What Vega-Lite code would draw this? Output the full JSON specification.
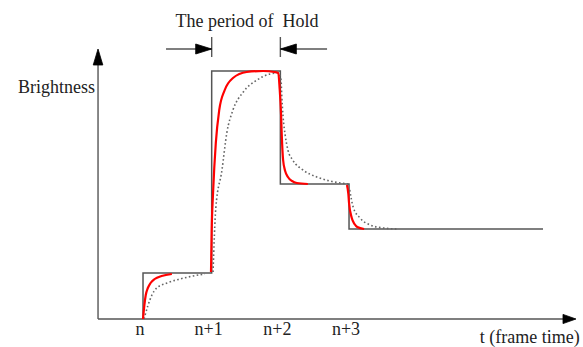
{
  "$schema": "https://vega.github.io/schema/vega-lite/v6.json",
  "width": 583,
  "height": 347,
  "autosize": {"type": "fit", "contains": "padding"},
  "padding": 0,
  "background": "white",
  "config": {"view": {"stroke": null}},
  "datasets": {
    "step": [
      {"i": 0, "t": 0, "b": 0}, {"i": 1, "t": 0, "b": 46}, {"i": 2, "t": 1, "b": 46},
      {"i": 3, "t": 1, "b": 248}, {"i": 4, "t": 2, "b": 248}, {"i": 5, "t": 2, "b": 135},
      {"i": 6, "t": 3, "b": 135}, {"i": 7, "t": 3, "b": 90}, {"i": 8, "t": 5.825, "b": 90}
    ],
    "fast": [
      {"seg": "a", "i": 0, "t": 0, "b": 0}, {"seg": "a", "i": 1, "t": 0.02, "b": 14},
      {"seg": "a", "i": 2, "t": 0.04, "b": 24}, {"seg": "a", "i": 3, "t": 0.07, "b": 31},
      {"seg": "a", "i": 4, "t": 0.11, "b": 36}, {"seg": "a", "i": 5, "t": 0.17, "b": 40},
      {"seg": "a", "i": 6, "t": 0.27, "b": 43}, {"seg": "a", "i": 7, "t": 0.42, "b": 45},
      {"seg": "b", "i": 0, "t": 0.99, "b": 47}, {"seg": "b", "i": 1, "t": 1.0, "b": 89},
      {"seg": "b", "i": 2, "t": 1.02, "b": 126}, {"seg": "b", "i": 3, "t": 1.06, "b": 176},
      {"seg": "b", "i": 4, "t": 1.11, "b": 209}, {"seg": "b", "i": 5, "t": 1.19, "b": 229},
      {"seg": "b", "i": 6, "t": 1.31, "b": 241}, {"seg": "b", "i": 7, "t": 1.51, "b": 247},
      {"seg": "b", "i": 8, "t": 1.75, "b": 248}, {"seg": "b", "i": 9, "t": 1.91, "b": 247},
      {"seg": "b", "i": 10, "t": 1.97, "b": 246}, {"seg": "b", "i": 11, "t": 1.99, "b": 230},
      {"seg": "b", "i": 12, "t": 2.01, "b": 205}, {"seg": "b", "i": 13, "t": 2.02, "b": 185},
      {"seg": "b", "i": 14, "t": 2.04, "b": 159}, {"seg": "b", "i": 15, "t": 2.07, "b": 148},
      {"seg": "b", "i": 16, "t": 2.11, "b": 142}, {"seg": "b", "i": 17, "t": 2.17, "b": 138},
      {"seg": "b", "i": 18, "t": 2.24, "b": 136}, {"seg": "b", "i": 19, "t": 2.4, "b": 135},
      {"seg": "c", "i": 0, "t": 2.97, "b": 134}, {"seg": "c", "i": 1, "t": 2.99, "b": 125},
      {"seg": "c", "i": 2, "t": 3.0, "b": 116}, {"seg": "c", "i": 3, "t": 3.04, "b": 101},
      {"seg": "c", "i": 4, "t": 3.08, "b": 95}, {"seg": "c", "i": 5, "t": 3.12, "b": 92},
      {"seg": "c", "i": 6, "t": 3.22, "b": 90}
    ],
    "slow": [
      {"seg": "a", "i": 0, "t": 0.015, "b": 0}, {"seg": "a", "i": 1, "t": 0.07, "b": 13},
      {"seg": "a", "i": 2, "t": 0.13, "b": 24}, {"seg": "a", "i": 3, "t": 0.2, "b": 31},
      {"seg": "a", "i": 4, "t": 0.35, "b": 36}, {"seg": "a", "i": 5, "t": 0.54, "b": 40},
      {"seg": "a", "i": 6, "t": 0.73, "b": 43}, {"seg": "a", "i": 7, "t": 0.9, "b": 45},
      {"seg": "b", "i": 0, "t": 1.02, "b": 47}, {"seg": "b", "i": 1, "t": 1.06, "b": 111},
      {"seg": "b", "i": 2, "t": 1.15, "b": 149}, {"seg": "b", "i": 3, "t": 1.22, "b": 186},
      {"seg": "b", "i": 4, "t": 1.31, "b": 209}, {"seg": "b", "i": 5, "t": 1.46, "b": 227},
      {"seg": "b", "i": 6, "t": 1.66, "b": 239}, {"seg": "b", "i": 7, "t": 1.85, "b": 245},
      {"seg": "b", "i": 8, "t": 1.97, "b": 246}, {"seg": "b", "i": 9, "t": 2.01, "b": 239},
      {"seg": "b", "i": 10, "t": 2.02, "b": 224}, {"seg": "b", "i": 11, "t": 2.04, "b": 202},
      {"seg": "b", "i": 12, "t": 2.07, "b": 184}, {"seg": "b", "i": 13, "t": 2.11, "b": 169},
      {"seg": "b", "i": 14, "t": 2.18, "b": 159}, {"seg": "b", "i": 15, "t": 2.33, "b": 149},
      {"seg": "b", "i": 16, "t": 2.53, "b": 142}, {"seg": "b", "i": 17, "t": 2.72, "b": 138},
      {"seg": "b", "i": 18, "t": 2.99, "b": 135},
      {"seg": "c", "i": 0, "t": 3.01, "b": 129}, {"seg": "c", "i": 1, "t": 3.06, "b": 112},
      {"seg": "c", "i": 2, "t": 3.16, "b": 101}, {"seg": "c", "i": 3, "t": 3.31, "b": 94},
      {"seg": "c", "i": 4, "t": 3.5, "b": 91}, {"seg": "c", "i": 5, "t": 3.7, "b": 90}
    ],
    "guides": [
      {"t": -0.655, "b": 0, "t2": -0.655, "b2": 258},
      {"t": -0.655, "b": 0, "t2": 6.15, "b2": 0},
      {"t": 0.335, "b": 270, "t2": 1, "b2": 270},
      {"t": 2, "b": 270, "t2": 2.68, "b2": 270},
      {"t": 1, "b": 262, "t2": 1, "b2": 282},
      {"t": 2, "b": 262, "t2": 2, "b2": 282}
    ],
    "heads": [
      {"dir": "up", "t": -0.655, "b": 270},
      {"dir": "right", "t": 1, "b": 270},
      {"dir": "left", "t": 2, "b": 270},
      {"dir": "axis", "t": 6.305, "b": 0}
    ],
    "ticks": [
      {"label": "n", "t": 0, "b": -16}, {"label": "n+1", "t": 1, "b": -16},
      {"label": "n+2", "t": 2, "b": -16}, {"label": "n+3", "t": 3, "b": -16}
    ],
    "notes": [
      {"text": "Brightness", "t": -0.7, "b": 226, "align": "right"},
      {"text": "The period of\u00a0 Hold", "t": 1.515, "b": 292, "align": "center"},
      {"text": "t (frame time)", "t": 6.36, "b": -24, "align": "right"}
    ]
  },
  "encoding": {
    "x": {"field": "t", "type": "quantitative", "axis": null,
          "scale": {"domain": [-2.0825, 6.407], "nice": false, "zero": false}},
    "y": {"field": "b", "type": "quantitative", "axis": null,
          "scale": {"domain": [-28, 319], "nice": false, "zero": false}}
  },
  "layer": [
    {
      "data": {"name": "guides"},
      "mark": {"type": "rule", "color": "#555", "strokeWidth": 1.4},
      "encoding": {"x2": {"field": "t2"}, "y2": {"field": "b2"}}
    },
    {
      "data": {"name": "step"},
      "mark": {"type": "line", "color": "#555", "strokeWidth": 1.5, "interpolate": "linear"},
      "encoding": {"order": {"field": "i", "type": "quantitative"}}
    },
    {
      "data": {"name": "slow"},
      "mark": {"type": "line", "color": "#666", "strokeWidth": 1.6, "strokeDash": [1.6, 2.4], "interpolate": "monotone"},
      "encoding": {
        "detail": {"field": "seg", "type": "nominal"},
        "order": {"field": "i", "type": "quantitative"}
      }
    },
    {
      "data": {"name": "fast"},
      "mark": {"type": "line", "color": "#ff0000", "strokeWidth": 2.2, "interpolate": "monotone"},
      "encoding": {
        "detail": {"field": "seg", "type": "nominal"},
        "order": {"field": "i", "type": "quantitative"}
      }
    },
    {
      "data": {"name": "heads"},
      "mark": {"type": "point", "filled": true, "fill": "#000", "stroke": "#000", "opacity": 1,
               "fillOpacity": 1, "strokeOpacity": 1, "size": 16, "strokeWidth": 0.8},
      "encoding": {
        "shape": {
          "field": "dir", "type": "nominal", "legend": null,
          "scale": {
            "domain": ["up", "right", "left", "axis"],
            "range": [
              "M0,0L-2.4,8L2.4,8Z",
              "M0,0L-8,-2.5L-8,2.5Z",
              "M0,0L8,-2.5L8,2.5Z",
              "M0,0L-6.5,-2.3L-6.5,2.3Z"
            ]
          }
        }
      }
    },
    {
      "data": {"name": "ticks"},
      "mark": {"type": "text", "font": "Liberation Serif", "fontSize": 18, "color": "#222",
               "align": "center", "baseline": "alphabetic", "dx": -3},
      "encoding": {"text": {"field": "label"}}
    },
    {
      "data": {"name": "notes"},
      "transform": [{"filter": "datum.align === 'right'"}],
      "mark": {"type": "text", "font": "Liberation Serif", "fontSize": 18, "color": "#222",
               "align": "right", "baseline": "alphabetic"},
      "encoding": {"text": {"field": "text"}}
    },
    {
      "data": {"name": "notes"},
      "transform": [{"filter": "datum.align === 'center'"}],
      "mark": {"type": "text", "font": "Liberation Serif", "fontSize": 18, "color": "#222",
               "align": "center", "baseline": "alphabetic"},
      "encoding": {"text": {"field": "text"}}
    }
  ]
}
